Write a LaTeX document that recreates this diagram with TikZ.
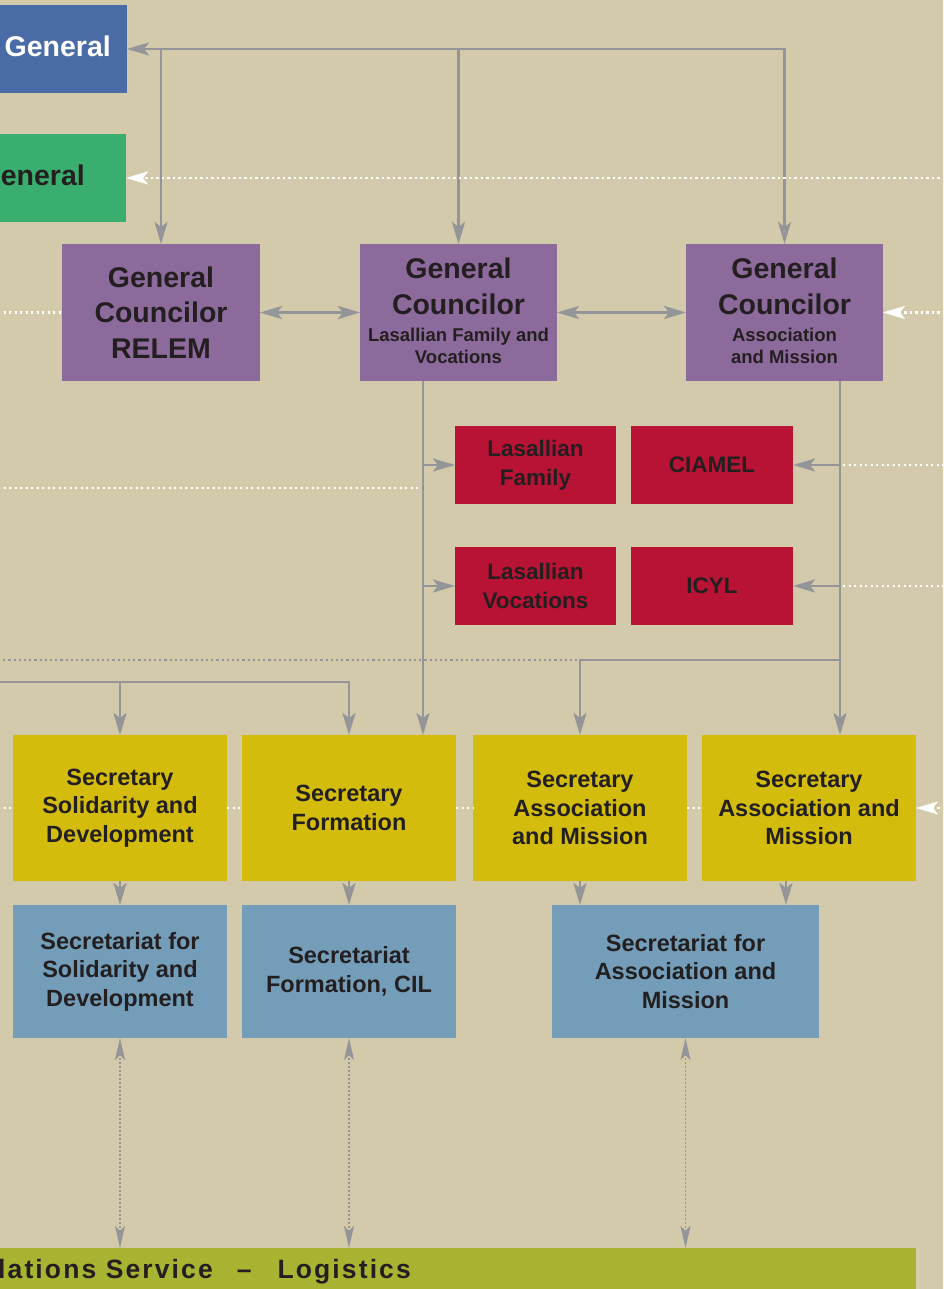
\documentclass[tikz,border=0pt]{standalone}
\usepackage{fontspec}
\setmainfont{Liberation Sans}
\newfontfamily\barfont[LetterSpace=8]{Liberation Sans}
\usetikzlibrary{arrows.meta}
\definecolor{bg}{HTML}{D3CAAB}
\definecolor{sgblue}{HTML}{4A6CA6}
\definecolor{vggreen}{HTML}{3AAE6F}
\definecolor{purp}{HTML}{8D6A9C}
\definecolor{redb}{HTML}{B81234}
\definecolor{yel}{HTML}{D4BC0D}
\definecolor{lblue}{HTML}{739DB8}
\definecolor{olive}{HTML}{A9B332}
\definecolor{gline}{HTML}{939598}
\definecolor{ink}{HTML}{231F20}
\tikzset{
  box/.style={rectangle, inner sep=0pt, outer sep=0pt, align=center, text=ink, font=\bfseries},
  titlefont/.style={font=\bfseries\fontsize{28.5}{35.5}\selectfont},
  subfont/.style={font=\bfseries\fontsize{18.5}{21.5}\selectfont},
  redfont/.style={font=\bfseries\fontsize{22.5}{29}\selectfont},
  secfont/.style={font=\bfseries\fontsize{23.5}{28.5}\selectfont},
  conn/.style={draw=gline, line width=2.8pt},
  wdot/.style={draw=white, line width=2.3pt, dash pattern=on 2.3pt off 3.2pt},
  gdot/.style={draw=gline, line width=2.1pt, dash pattern=on 2.1pt off 3.1pt},
  vdot/.style={draw=gline, line width=1.8pt, dash pattern=on 2pt off 2pt},
  >={Stealth[length=22pt,width=13pt,inset=5pt]},
}
\begin{document}
\begin{tikzpicture}[x=1pt,y=-1pt]
\useasboundingbox (0,0) rectangle (943,1289);
\clip (0,0) rectangle (943,1289);
\fill[bg] (-5,-5) rectangle (950,1295);

% top boxes
\node[box, fill=sgblue, minimum width=227pt, minimum height=88pt] (SG) at (13.5,49) {};
\node[anchor=base east, text=white, font=\bfseries\fontsize{28.5}{34}\selectfont, inner sep=0pt] (SGt) at (111,57) {General};
\node[box, fill=vggreen, minimum width=226pt, minimum height=88pt] (VG) at (13,178) {};
\node[anchor=base east, text=ink, font=\bfseries\fontsize{28.5}{34}\selectfont, inner sep=0pt] (VGt) at (85,186) {eneral};

% general councilors
\node[box, titlefont, fill=purp, minimum width=198pt, minimum height=137pt] (GC1) at (161,312.5) {General\\Councilor\\RELEM};
\node[box, fill=purp, minimum width=197pt, minimum height=137pt] (GC2) at (458.5,312.5) {};
\node[box, titlefont] (GC2t) at (458.5,286.5) {General\\Councilor};
\node[box, subfont] (GC2s) at (458.5,346) {Lasallian Family and\\Vocations};
\node[box, fill=purp, minimum width=197pt, minimum height=137pt] (GC3) at (784.5,312.5) {};
\node[box, titlefont] (GC3t) at (784.5,286.5) {General\\Councilor};
\node[box, subfont] (GC3s) at (784.5,346) {Association\\and Mission};

% red boxes
\node[box, redfont, fill=redb, minimum width=161pt, minimum height=78pt] (LF) at (535.5,465) {Lasallian\\Family};
\node[box, redfont, fill=redb, minimum width=162pt, minimum height=78pt] (CI) at (712,465) {CIAMEL};
\node[box, redfont, fill=redb, minimum width=161pt, minimum height=78pt] (LV) at (535.5,586) {Lasallian\\Vocations};
\node[box, redfont, fill=redb, minimum width=162pt, minimum height=78pt] (IC) at (712,586) {ICYL};

% secretaries
\node[box, secfont, fill=yel, minimum width=214pt, minimum height=146pt] (S1) at (120,808) {Secretary\\Solidarity and\\Development};
\node[box, secfont, fill=yel, minimum width=214pt, minimum height=146pt] (S2) at (349,808) {Secretary\\Formation};
\node[box, secfont, fill=yel, minimum width=214pt, minimum height=146pt] (S3) at (580,808) {Secretary\\Association\\and Mission};
\node[box, secfont, fill=yel, minimum width=214pt, minimum height=146pt] (S4) at (809,808) {Secretary\\Association and\\Mission};

% secretariats
\node[box, secfont, fill=lblue, minimum width=214pt, minimum height=133pt] (B1) at (120,971.5) {Secretariat for\\Solidarity and\\Development};
\node[box, secfont, fill=lblue, minimum width=214pt, minimum height=133pt] (B2) at (349,971.5) {Secretariat\\Formation, CIL};
\node[box, secfont, fill=lblue, minimum width=267pt, minimum height=133pt] (B3) at (685.5,971.5) {Secretariat for\\Association and\\Mission};

% bottom bar
\node[box, fill=olive, minimum width=1016pt, minimum height=47pt] (BAR) at (408,1271.5) {};
\node[anchor=base west, inner sep=0pt, text=ink, font=\barfont\bfseries\fontsize{26.5}{30}\selectfont] (BARt) at (-2,1278) {lations Service\hskip 24pt–\hskip 26pt Logistics};

% free-end coordinates
\coordinate (R178) at (945,178);
\coordinate (R312) at (945,312.5);
\coordinate (R465) at (945,465);
\coordinate (R587) at (945,586);
\coordinate (R808) at (945,808);
\coordinate (L312) at (-2,312.5);
\coordinate (L488) at (-2,488);
\coordinate (M488) at (420,488);
\coordinate (L660) at (-2,660);
\coordinate (M660) at (578,660);
\coordinate (L682) at (-2,682);
\coordinate (L808) at (-2,808);
\coordinate (V1) at (423,381);
\coordinate (V2) at (840,381);
\coordinate (J660) at (840,660);

% top distribution
\draw[conn, <->] (GC3.north) |- (SG.east);
\draw[conn, ->] (SG.east -| GC1.north) -- (GC1.north);
\draw[conn, ->] (SG.east -| GC2.north) -- (GC2.north);
\draw[wdot, ->] (R178) -- (VG.east);

% councilors links
\draw[conn, <->] (GC1.east) -- (GC2.west);
\draw[conn, <->] (GC2.east) -- (GC3.west);
\draw[wdot] (L312) -- (GC1.west);
\draw[wdot, ->] (R312) -- (GC3.east);

% left vertical
\draw[conn, ->] (V1) -- (V1 |- S2.north);
\draw[conn, ->] (V1 |- LF.west) -- (LF.west);
\draw[conn, ->] (V1 |- LV.west) -- (LV.west);
\draw[wdot] (L488) -- (M488);

% right vertical
\draw[conn, ->] (V2) -- (V2 |- S4.north);
\draw[conn, ->] (V2 |- CI.east) -- (CI.east);
\draw[conn, ->] (V2 |- IC.east) -- (IC.east);
\draw[conn, ->] (J660) -| (S3.north);
\draw[wdot] ([xshift=3pt]V2 |- CI.east) -- (R465);
\draw[wdot] ([xshift=3pt]V2 |- IC.east) -- (R587);

% left lines
\draw[gdot] (L660) -- (M660);
\draw[conn, ->] (L682) -| (S2.north);
\draw[conn, ->] (S1.north |- L682) -- (S1.north);

% secretary row dotted
\draw[wdot] (L808) -- (S1.west);
\draw[wdot] (S1.east) -- (S2.west);
\draw[wdot] (S2.east) -- (S3.west);
\draw[wdot] (S3.east) -- (S4.west);
\draw[wdot, ->] (R808) -- (S4.east);

% secretary to secretariat
\coordinate (S4a) at ([xshift=-23pt]S4.south);
\draw[conn, ->] (S1.south) -- (B1.north);
\draw[conn, ->] (S2.south) -- (B2.north);
\draw[conn, ->] (S3.south) -- (S3.south |- B3.north);
\draw[conn, ->] (S4a) -- (S4a |- B3.north);

% secretariat to bottom bar
\draw[vdot, {Stealth[length=22pt,width=10pt,inset=5pt]}-{Stealth[length=22pt,width=10pt,inset=5pt]}] (B1.south) -- (B1.south |- BAR.north);
\draw[vdot, {Stealth[length=22pt,width=10pt,inset=5pt]}-{Stealth[length=22pt,width=10pt,inset=5pt]}] (B2.south) -- (B2.south |- BAR.north);
\draw[vdot, {Stealth[length=22pt,width=10pt,inset=5pt]}-{Stealth[length=22pt,width=10pt,inset=5pt]}] (B3.south) -- (B3.south |- BAR.north);
\end{tikzpicture}
\end{document}
